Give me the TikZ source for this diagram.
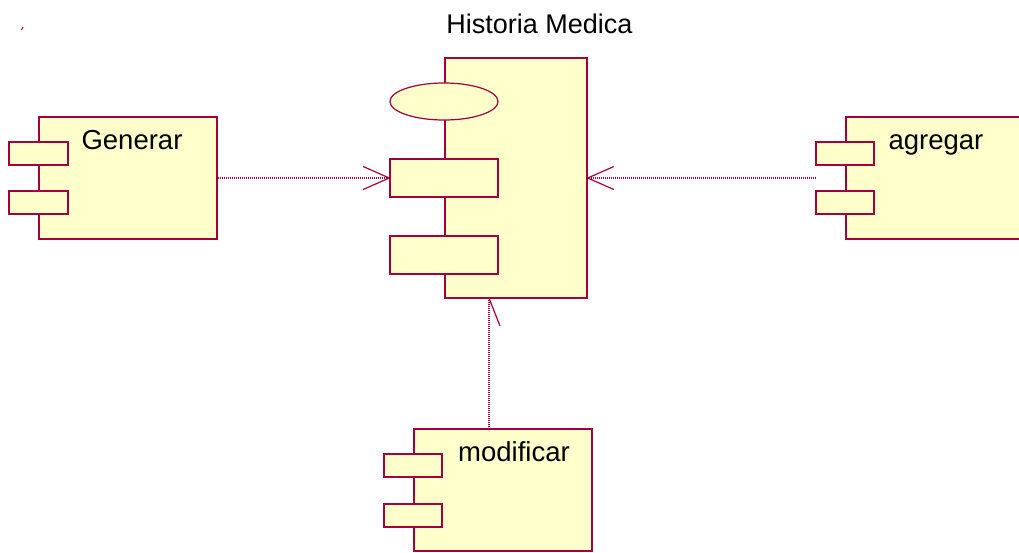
\documentclass[tikz,border=0pt]{standalone}
\usepackage{fontspec}
\setmainfont{Liberation Sans}
\usetikzlibrary{shapes.geometric,calc}
\definecolor{umlline}{RGB}{160,0,60}
\definecolor{umlfill}{RGB}{255,255,204}
\begin{document}
\begin{tikzpicture}[x=1pt,y=-1pt,
  box/.style={draw=umlline,fill=umlfill,line width=1.6pt,rectangle,inner sep=0pt},
  oval/.style={draw=umlline,fill=umlfill,line width=1.2pt,ellipse,inner sep=0pt},
  lbl/.style={font=\fontsize{27.5}{30}\selectfont,anchor=base,inner sep=0pt},
  dep/.style={draw=umlline,line width=1.1pt,dash pattern=on 1pt off 1pt},
  barb/.style={draw=umlline,line width=1.2pt}]
\useasboundingbox (0,0) rectangle (1019,552);
\begin{scope}
\clip (0,0) rectangle (1019,552);
% stray mark
\draw[umlline,line width=1pt] (21.5,30) -- (23,27);
% title
\node[lbl,font=\fontsize{27}{30}\selectfont] (title) at (539.5,33) {Historia Medica};
% central component
\node[box,minimum width=142pt,minimum height=240pt] (hm) at (516,178) {};
\node[oval,minimum width=108pt,minimum height=37pt] (hmo) at (444,101.5) {};
\node[box,minimum width=108pt,minimum height=38pt] (hma) at (444,178) {};
\node[box,minimum width=108pt,minimum height=38pt] (hmb) at (444,255) {};
% Generar
\node[box,minimum width=178pt,minimum height=122pt] (gen) at (128,178) {};
\node[box,minimum width=59pt,minimum height=23pt] (gena) at (38.5,153.5) {};
\node[box,minimum width=59pt,minimum height=23pt] (genb) at (38.5,202.5) {};
\node[lbl] (gent) at (132,149) {Generar};
% agregar
\node[box,minimum width=182pt,minimum height=122pt] (agr) at (937,178) {};
\node[box,minimum width=58pt,minimum height=23pt] (agra) at (845,153.5) {};
\node[box,minimum width=58pt,minimum height=23pt] (agrb) at (845,202.5) {};
\node[lbl] (agrt) at (936,149) {agregar};
% modificar
\node[box,minimum width=178pt,minimum height=122pt] (mod) at (503,490) {};
\node[box,minimum width=58pt,minimum height=23pt] (moda) at (413,465.5) {};
\node[box,minimum width=58pt,minimum height=23pt] (modb) at (413,515.5) {};
\node[lbl] (modt) at (514,461) {modificar};
% connectors
\coordinate (gtip) at (hma.west);
\coordinate (atip) at (hm.east);
\coordinate (mtip) at (489,298);
\draw[dep] (gen.east) -- (gtip);
\draw[barb] ($(gtip)+(-26,-11.5)$) -- (gtip) -- ($(gtip)+(-26,11.5)$);
\coordinate (astart) at (816,178);
\draw[dep] (astart) -- (atip);
\draw[barb] ($(atip)+(26,-11.5)$) -- (atip) -- ($(atip)+(26,11.5)$);
\coordinate (mstart) at (489,429);
\draw[dep] (mstart) -- (mtip);
\draw[barb] (mtip) -- ($(mtip)+(11,28)$);
\end{scope}
\end{tikzpicture}
\end{document}
